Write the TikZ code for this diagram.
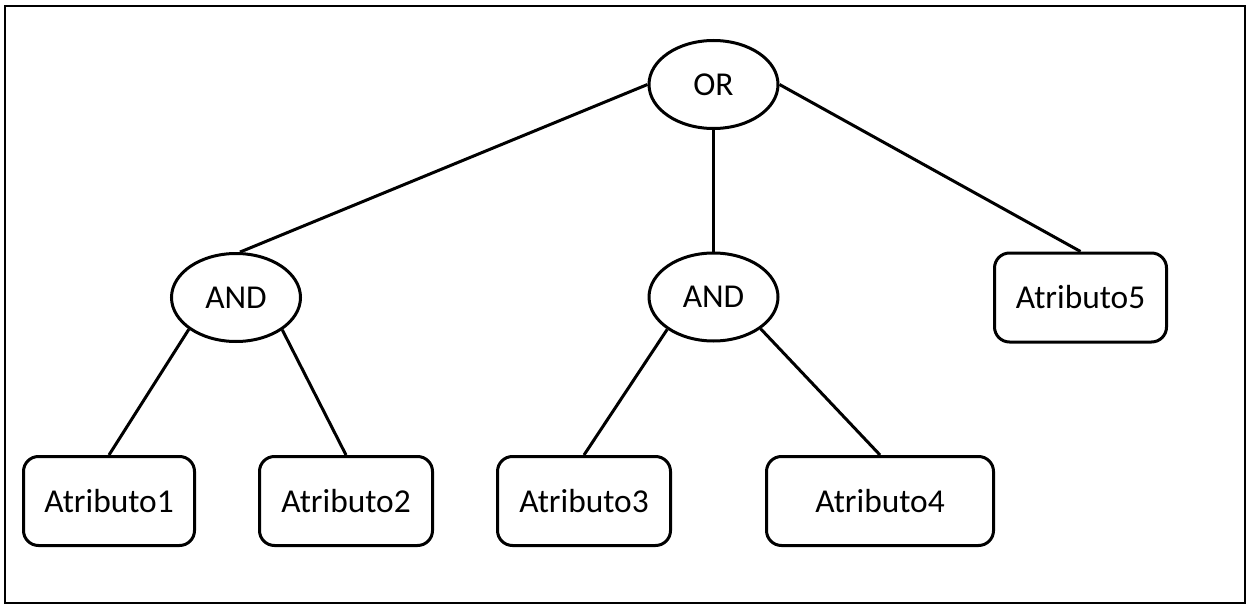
\documentclass[tikz,border=0pt]{standalone}
\usepackage{fontspec}
\setmainfont{Carlito}
\usetikzlibrary{shapes.geometric}
\begin{document}
\begin{tikzpicture}[x=0.5pt, y=-0.5pt,
  every node/.style={font=\fontsize{16.7}{20}\selectfont, inner sep=0pt},
  gate/.style={ellipse, draw, line width=1.5pt, minimum width=64.5pt, minimum height=44pt},
  attr/.style={rectangle, rounded corners=7.5pt, draw, line width=1.5pt, minimum height=44.5pt},
  link/.style={line width=1.5pt}]
  \useasboundingbox (0,0) rectangle (1251,604);
  \draw[line width=1pt] (5,6) rectangle (1245,603);

  % gates
  \node[gate] (or)   at (713.5,84.5) {OR};
  \node[gate] (andl) at (236,297.5)  {AND};
  \node[gate] (andm) at (713.5,297)  {AND};

  % leaves
  \node[attr, minimum width=85.5pt]  (a1) at (109,501)    {Atributo1};
  \node[attr, minimum width=86.5pt]  (a2) at (346,501)    {Atributo2};
  \node[attr, minimum width=86.5pt]  (a3) at (584,501)    {Atributo3};
  \node[attr, minimum width=113.5pt] (a4) at (880,501)    {Atributo4};
  \node[attr, minimum width=86pt]    (a5) at (1080.5,297.5) {Atributo5};

  % connectors
  \draw[link] (or.west)  -- (andl.85);
  \draw[link] (or.south) -- (andm.north);
  \draw[link] (or.east)  -- (a5.north);
  \draw[link] (andl.214) -- (a1.north);
  \draw[link] (andl.325) -- (a2.north);
  \draw[link] (andm.215) -- (a3.north);
  \draw[link] (andm.326) -- (a4.north);
\end{tikzpicture}
\end{document}
